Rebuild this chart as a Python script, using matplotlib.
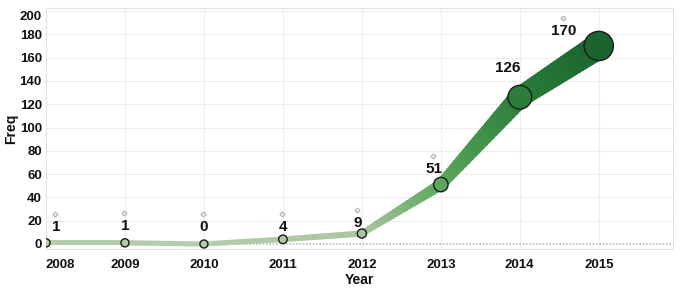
import numpy as np
import matplotlib
matplotlib.use("Agg")
import matplotlib.pyplot as plt
from matplotlib.colors import LinearSegmentedColormap
from matplotlib.patches import Polygon
from matplotlib.transforms import offset_copy

plt.rcParams['font.family'] = ['Liberation Sans', 'DejaVu Sans']

# data
years = [2008, 2009, 2010, 2011, 2012, 2013, 2014, 2015]
freq = [1, 1, 0, 4, 9, 51, 126, 170]
yticks = [0, 20, 40, 60, 80, 100, 120, 140, 160, 180, 200]

# label offsets in pixels (dx, dy) - chosen to mimic placement
label_off = [(10, 16), (0, 17), (0, 17), (0, 12), (-4, 11), (-7, 16), (-12, 29), (-35, 15)]
show_handle = [True, True, True, True, True, True, False, True]

cmap = LinearSegmentedColormap.from_list(
    'grn', [(0.0, '#b4cdab'), (0.06, '#a6c59c'), (0.3, '#5ca85c'), (0.75, '#2a7c3a'), (1.0, '#1b6430')])
vmax = max(freq)


def band_w(v):
    return 5 + 0.125 * v


def dot_d(v):
    return 8 + 0.125 * v


fig = plt.figure(figsize=(6.84, 2.88), dpi=100)
ax = fig.add_axes([46 / 684, 1 - 249 / 288, 627 / 684, 241 / 288])
ax.set_xlim(2008, 2015.94)
ax.set_ylim(-4.3, 202.6)

# grid + frame
for y in yticks[1:]:
    ax.axhline(y, color='#eeeeee', lw=0.8, zorder=0)
for x in years[1:]:
    ax.axvline(x, color='#eeeeee', lw=0.8, zorder=0)
ax.axhline(0, color='#bdbdbd', lw=1.2, ls=(0, (1, 1)), zorder=1)
for s in ax.spines.values():
    s.set_color('#e2e2e2')
    s.set_linewidth(0.8)

# tapered band, built in pixel space then mapped back to data
fig.canvas.draw()
to_px = ax.transData
to_data = ax.transData.inverted()
pts = to_px.transform(np.column_stack([years, freq]))
nsub = 24
for i in range(len(years) - 1):
    p0, p1 = pts[i], pts[i + 1]
    d = p1 - p0
    n = np.array([-d[1], d[0]]) / np.hypot(*d)
    for k in range(nsub):
        t0, t1 = k / nsub, (k + 1) / nsub
        a = p0 + d * t0
        b = p0 + d * (t1 + 0.02)
        v0 = freq[i] + (freq[i + 1] - freq[i]) * t0
        v1 = freq[i] + (freq[i + 1] - freq[i]) * t1
        w0, w1 = band_w(v0) / 2, band_w(v1) / 2
        poly = np.array([a + n * w0, b + n * w1, b - n * w1, a - n * w0])
        vm = (v0 + v1) / 2
        ax.add_patch(Polygon(to_data.transform(poly), closed=True,
                             facecolor=cmap(vm / vmax), edgecolor='none', zorder=2))

# dots
sizes = [(dot_d(v) * 0.72) ** 2 for v in freq]
ax.scatter(years, freq, s=sizes, c=[cmap(v / vmax) for v in freq],
           edgecolors='#1a1a1a', linewidths=1.0, zorder=3)

# value labels + small annotation handles
for x, v, (dx, dy), h in zip(years, freq, label_off, show_handle):
    tr = offset_copy(ax.transData, fig=fig, x=dx, y=dy, units='dots')
    ax.text(x, v, str(v), transform=tr, ha='center', va='center',
            fontsize=11, fontweight='bold', color='#111111', zorder=4)
    if h:
        tr2 = offset_copy(ax.transData, fig=fig, x=dx - 1, y=dy + 13, units='dots')
        ax.plot([x], [v], transform=tr2, marker='D', ms=2.6, mfc='#eeeeee',
                mec='#aaaaaa', mew=0.7, zorder=4, clip_on=False)

ax.set_xticks(years)
ax.set_xticklabels([str(y) for y in years])
ax.set_yticks(yticks)
ax.set_yticklabels([str(y) for y in yticks])
ax.tick_params(axis='both', length=0, labelsize=9.5, labelcolor='#111111')
ax.tick_params(axis='x', pad=7)
ax.tick_params(axis='y', pad=3)
for lab in ax.get_xticklabels() + ax.get_yticklabels():
    lab.set_fontweight('bold')
ax.get_xticklabels()[0].set_ha('left')
ax.get_yticklabels()[-1].set_va('top')

ax.set_xlabel('Year', fontsize=10, fontweight='bold', color='#111111', labelpad=2)
ax.set_ylabel('Freq', fontsize=10, fontweight='bold', color='#111111')
ax.yaxis.set_label_coords(-28 / 627, 0.5)

fig.savefig('out.png', dpi=100)
